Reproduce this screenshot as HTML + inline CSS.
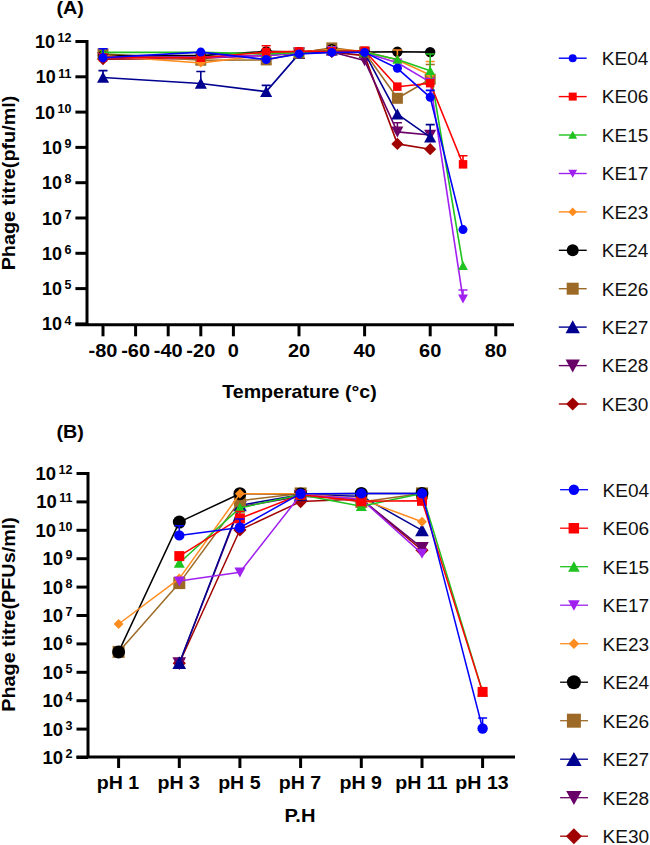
<!DOCTYPE html>
<html><head><meta charset="utf-8"><style>html,body{margin:0;padding:0;background:#fff;width:650px;height:845px;overflow:hidden}svg{display:block}</style></head><body>
<svg width="650" height="845" viewBox="0 0 650 845" font-family="Liberation Sans, sans-serif">
<rect width="650" height="845" fill="#fff"/>
<path d="M103.0 59.1 L200.8 58.4 L266.2 54.9 L299.0 52.8 L331.8 52.1 L364.6 55.6 L397.4 143.9 L430.2 149.2" fill="none" stroke="#a00000" stroke-width="1.6" stroke-linejoin="round"/>
<path d="M103.0 53.1L109.1 59.1L103.0 65.2L97.0 59.1Z" fill="#a00000"/>
<path d="M200.8 52.4L206.9 58.4L200.8 64.5L194.8 58.4Z" fill="#a00000"/>
<path d="M266.2 48.9L272.2 54.9L266.2 61.0L260.1 54.9Z" fill="#a00000"/>
<path d="M299.0 46.7L305.1 52.8L299.0 58.8L292.9 52.8Z" fill="#a00000"/>
<path d="M331.8 46.0L337.9 52.1L331.8 58.1L325.8 52.1Z" fill="#a00000"/>
<path d="M364.6 49.6L370.7 55.6L364.6 61.7L358.6 55.6Z" fill="#a00000"/>
<path d="M397.4 137.8L403.4 143.9L397.4 149.9L391.3 143.9Z" fill="#a00000"/>
<path d="M430.2 143.1L436.2 149.2L430.2 155.2L424.1 149.2Z" fill="#a00000"/>
<path d="M103.0 57.4 L200.8 57.4 L266.2 55.6 L299.0 52.8 L331.8 52.1 L364.6 60.6 L397.4 131.9 L430.2 135.0" fill="none" stroke="#680068" stroke-width="1.6" stroke-linejoin="round"/>
<path d="M397.4 131.9 V122.8 M392.9 122.8 H401.9" fill="none" stroke="#680068" stroke-width="1.6"/>
<path d="M103.0 63.2L109.1 52.2L97.0 52.2Z" fill="#680068"/>
<path d="M200.8 63.2L206.9 52.2L194.8 52.2Z" fill="#680068"/>
<path d="M266.2 61.4L272.2 50.4L260.1 50.4Z" fill="#680068"/>
<path d="M299.0 58.6L305.1 47.6L292.9 47.6Z" fill="#680068"/>
<path d="M331.8 57.9L337.9 46.9L325.8 46.9Z" fill="#680068"/>
<path d="M364.6 66.3L370.7 55.3L358.6 55.3Z" fill="#680068"/>
<path d="M397.4 137.6L403.4 126.6L391.3 126.6Z" fill="#680068"/>
<path d="M430.2 140.8L436.2 129.8L424.1 129.8Z" fill="#680068"/>
<path d="M103.0 77.5 L200.8 83.5 L266.2 91.6 L299.0 53.9 L331.8 50.3 L364.6 52.8 L397.4 114.2 L430.2 137.2" fill="none" stroke="#000090" stroke-width="1.6" stroke-linejoin="round"/>
<path d="M103.0 77.5 V70.6 M98.5 70.6 H107.5" fill="none" stroke="#000090" stroke-width="1.6"/>
<path d="M200.8 83.5 V71.5 M196.3 71.5 H205.3" fill="none" stroke="#000090" stroke-width="1.6"/>
<path d="M266.2 91.6 V85.4 M261.7 85.4 H270.7" fill="none" stroke="#000090" stroke-width="1.6"/>
<path d="M430.2 137.2 V124.6 M425.7 124.6 H434.7" fill="none" stroke="#000090" stroke-width="1.6"/>
<path d="M103.0 71.7L109.1 82.7L97.0 82.7Z" fill="#000090"/>
<path d="M200.8 77.7L206.9 88.7L194.8 88.7Z" fill="#000090"/>
<path d="M266.2 85.9L272.2 96.9L260.1 96.9Z" fill="#000090"/>
<path d="M299.0 48.1L305.1 59.1L292.9 59.1Z" fill="#000090"/>
<path d="M331.8 44.6L337.9 55.6L325.8 55.6Z" fill="#000090"/>
<path d="M364.6 47.0L370.7 58.0L358.6 58.0Z" fill="#000090"/>
<path d="M397.4 108.4L403.4 119.4L391.3 119.4Z" fill="#000090"/>
<path d="M430.2 131.4L436.2 142.4L424.1 142.4Z" fill="#000090"/>
<path d="M103.0 53.9 L200.8 60.2 L266.2 59.9 L299.0 53.1 L331.8 47.9 L364.6 52.1 L397.4 98.3 L430.2 79.3" fill="none" stroke="#9c6a26" stroke-width="1.6" stroke-linejoin="round"/>
<path d="M430.2 79.3 V64.5 M425.7 64.5 H434.7" fill="none" stroke="#9c6a26" stroke-width="1.6"/>
<rect x="97.5" y="48.4" width="11.0" height="11.0" fill="#9c6a26"/>
<rect x="195.3" y="54.7" width="11.0" height="11.0" fill="#9c6a26"/>
<rect x="260.7" y="54.4" width="11.0" height="11.0" fill="#9c6a26"/>
<rect x="293.5" y="47.6" width="11.0" height="11.0" fill="#9c6a26"/>
<rect x="326.3" y="42.4" width="11.0" height="11.0" fill="#9c6a26"/>
<rect x="359.1" y="46.6" width="11.0" height="11.0" fill="#9c6a26"/>
<rect x="391.9" y="92.8" width="11.0" height="11.0" fill="#9c6a26"/>
<rect x="424.7" y="73.8" width="11.0" height="11.0" fill="#9c6a26"/>
<path d="M103.0 55.6 L200.8 55.6 L266.2 51.4 L299.0 52.1 L331.8 49.3 L364.6 52.1 L397.4 51.7 L430.2 52.1" fill="none" stroke="#000000" stroke-width="1.6" stroke-linejoin="round"/>
<circle cx="103.0" cy="55.6" r="5.2" fill="#000000"/>
<circle cx="200.8" cy="55.6" r="5.2" fill="#000000"/>
<circle cx="266.2" cy="51.4" r="5.2" fill="#000000"/>
<circle cx="299.0" cy="52.1" r="5.2" fill="#000000"/>
<circle cx="331.8" cy="49.3" r="5.2" fill="#000000"/>
<circle cx="364.6" cy="52.1" r="5.2" fill="#000000"/>
<circle cx="397.4" cy="51.7" r="5.2" fill="#000000"/>
<circle cx="430.2" cy="52.1" r="5.2" fill="#000000"/>
<path d="M103.0 55.6 L200.8 63.0 L266.2 54.9 L299.0 52.1 L331.8 49.3 L364.6 51.4 L397.4 59.9 L430.2 75.0" fill="none" stroke="#ff8c1f" stroke-width="1.6" stroke-linejoin="round"/>
<path d="M430.2 75.0 V61.5 M425.7 61.5 H434.7" fill="none" stroke="#ff8c1f" stroke-width="1.6"/>
<path d="M397.4 59.9 V50.0 M392.9 50.0 H401.9" fill="none" stroke="#ff8c1f" stroke-width="1.6"/>
<path d="M103.0 51.2L107.4 55.6L103.0 60.0L98.6 55.6Z" fill="#ff8c1f"/>
<path d="M200.8 58.6L205.2 63.0L200.8 67.4L196.4 63.0Z" fill="#ff8c1f"/>
<path d="M266.2 50.5L270.6 54.9L266.2 59.3L261.8 54.9Z" fill="#ff8c1f"/>
<path d="M299.0 47.7L303.4 52.1L299.0 56.5L294.6 52.1Z" fill="#ff8c1f"/>
<path d="M331.8 44.9L336.2 49.3L331.8 53.7L327.4 49.3Z" fill="#ff8c1f"/>
<path d="M364.6 47.0L369.0 51.4L364.6 55.8L360.2 51.4Z" fill="#ff8c1f"/>
<path d="M397.4 55.5L401.8 59.9L397.4 64.3L393.0 59.9Z" fill="#ff8c1f"/>
<path d="M430.2 70.6L434.6 75.0L430.2 79.4L425.8 75.0Z" fill="#ff8c1f"/>
<path d="M103.0 57.4 L200.8 57.4 L266.2 55.6 L299.0 52.8 L331.8 50.3 L364.6 52.8 L397.4 62.7 L430.2 82.1 L463.0 298.8" fill="none" stroke="#a020f0" stroke-width="1.6" stroke-linejoin="round"/>
<path d="M463.0 298.8 V290.0 M458.5 290.0 H467.5" fill="none" stroke="#a020f0" stroke-width="1.6"/>
<path d="M103.0 62.1L108.0 53.1L98.1 53.1Z" fill="#a020f0"/>
<path d="M200.8 62.1L205.8 53.1L195.9 53.1Z" fill="#a020f0"/>
<path d="M266.2 60.3L271.1 51.3L261.2 51.3Z" fill="#a020f0"/>
<path d="M299.0 57.5L303.9 48.5L294.1 48.5Z" fill="#a020f0"/>
<path d="M331.8 55.1L336.8 46.1L326.9 46.1Z" fill="#a020f0"/>
<path d="M364.6 57.5L369.6 48.5L359.7 48.5Z" fill="#a020f0"/>
<path d="M397.4 67.4L402.3 58.4L392.4 58.4Z" fill="#a020f0"/>
<path d="M430.2 86.8L435.1 77.8L425.2 77.8Z" fill="#a020f0"/>
<path d="M463.0 303.6L467.9 294.6L458.1 294.6Z" fill="#a020f0"/>
<path d="M103.0 52.4 L200.8 52.4 L266.2 53.9 L299.0 52.8 L331.8 50.3 L364.6 52.1 L397.4 59.5 L430.2 70.8 L463.0 265.7" fill="none" stroke="#1fc21f" stroke-width="1.6" stroke-linejoin="round"/>
<path d="M430.2 70.8 V54.0 M425.7 54.0 H434.7" fill="none" stroke="#1fc21f" stroke-width="1.6"/>
<path d="M103.0 47.7L108.0 56.7L98.1 56.7Z" fill="#1fc21f"/>
<path d="M200.8 47.7L205.8 56.7L195.9 56.7Z" fill="#1fc21f"/>
<path d="M266.2 49.1L271.1 58.1L261.2 58.1Z" fill="#1fc21f"/>
<path d="M299.0 48.1L303.9 57.1L294.1 57.1Z" fill="#1fc21f"/>
<path d="M331.8 45.6L336.8 54.6L326.9 54.6Z" fill="#1fc21f"/>
<path d="M364.6 47.4L369.6 56.4L359.7 56.4Z" fill="#1fc21f"/>
<path d="M397.4 54.8L402.3 63.8L392.4 63.8Z" fill="#1fc21f"/>
<path d="M430.2 66.1L435.1 75.1L425.2 75.1Z" fill="#1fc21f"/>
<path d="M463.0 260.9L467.9 269.9L458.1 269.9Z" fill="#1fc21f"/>
<path d="M103.0 57.4 L200.8 57.7 L266.2 52.1 L299.0 51.4 L331.8 51.4 L364.6 50.7 L397.4 86.7 L430.2 83.2 L463.0 164.3" fill="none" stroke="#ff0000" stroke-width="1.6" stroke-linejoin="round"/>
<path d="M266.2 52.1 V45.7 M261.7 45.7 H270.7" fill="none" stroke="#ff0000" stroke-width="1.6"/>
<path d="M463.0 164.3 V155.7 M458.5 155.7 H467.5" fill="none" stroke="#ff0000" stroke-width="1.6"/>
<rect x="98.8" y="53.1" width="8.5" height="8.5" fill="#ff0000"/>
<rect x="196.6" y="53.5" width="8.5" height="8.5" fill="#ff0000"/>
<rect x="261.9" y="47.8" width="8.5" height="8.5" fill="#ff0000"/>
<rect x="294.8" y="47.1" width="8.5" height="8.5" fill="#ff0000"/>
<rect x="327.6" y="47.1" width="8.5" height="8.5" fill="#ff0000"/>
<rect x="360.4" y="46.4" width="8.5" height="8.5" fill="#ff0000"/>
<rect x="393.1" y="82.4" width="8.5" height="8.5" fill="#ff0000"/>
<rect x="425.9" y="78.9" width="8.5" height="8.5" fill="#ff0000"/>
<rect x="458.8" y="160.1" width="8.5" height="8.5" fill="#ff0000"/>
<path d="M103.0 57.7 L200.8 52.1 L266.2 59.5 L299.0 53.9 L331.8 52.4 L364.6 52.4 L397.4 68.3 L430.2 97.3 L463.0 229.6" fill="none" stroke="#0000ff" stroke-width="1.6" stroke-linejoin="round"/>
<path d="M430.2 97.3 V90.4 M425.7 90.4 H434.7" fill="none" stroke="#0000ff" stroke-width="1.6"/>
<path d="M103.0 57.7 V48.7 M98.5 48.7 H107.5" fill="none" stroke="#0000ff" stroke-width="1.6"/>
<circle cx="103.0" cy="57.7" r="4.5" fill="#0000ff"/>
<circle cx="200.8" cy="52.1" r="4.5" fill="#0000ff"/>
<circle cx="266.2" cy="59.5" r="4.5" fill="#0000ff"/>
<circle cx="299.0" cy="53.9" r="4.5" fill="#0000ff"/>
<circle cx="331.8" cy="52.4" r="4.5" fill="#0000ff"/>
<circle cx="364.6" cy="52.4" r="4.5" fill="#0000ff"/>
<circle cx="397.4" cy="68.3" r="4.5" fill="#0000ff"/>
<circle cx="430.2" cy="97.3" r="4.5" fill="#0000ff"/>
<circle cx="463.0" cy="229.6" r="4.5" fill="#0000ff"/>
<path d="M179.3 663.2 L239.9 530.0 L300.6 501.6 L361.3 499.1 L422.0 550.2" fill="none" stroke="#a00000" stroke-width="1.5" stroke-linejoin="round"/>
<path d="M179.3 656.6L185.9 663.2L179.3 669.8L172.7 663.2Z" fill="#a00000"/>
<path d="M239.9 523.4L246.5 530.0L239.9 536.6L233.3 530.0Z" fill="#a00000"/>
<path d="M300.6 495.0L307.2 501.6L300.6 508.2L294.0 501.6Z" fill="#a00000"/>
<path d="M361.3 492.5L367.9 499.1L361.3 505.7L354.7 499.1Z" fill="#a00000"/>
<path d="M422.0 543.6L428.6 550.2L422.0 556.8L415.4 550.2Z" fill="#a00000"/>
<path d="M179.3 663.2 L239.9 507.0 L300.6 496.2 L361.3 499.1 L422.0 547.9" fill="none" stroke="#680068" stroke-width="1.5" stroke-linejoin="round"/>
<path d="M179.3 669.8L186.1 657.3L172.4 657.3Z" fill="#680068"/>
<path d="M239.9 513.6L246.8 501.1L233.1 501.1Z" fill="#680068"/>
<path d="M300.6 502.8L307.5 490.3L293.7 490.3Z" fill="#680068"/>
<path d="M361.3 505.6L368.2 493.1L354.4 493.1Z" fill="#680068"/>
<path d="M422.0 554.5L428.8 542.0L415.1 542.0Z" fill="#680068"/>
<path d="M179.3 663.2 L239.9 505.3 L300.6 494.8 L361.3 496.2 L422.0 530.3" fill="none" stroke="#000090" stroke-width="1.5" stroke-linejoin="round"/>
<path d="M179.3 656.6L186.1 669.1L172.4 669.1Z" fill="#000090"/>
<path d="M239.9 498.7L246.8 511.2L233.1 511.2Z" fill="#000090"/>
<path d="M300.6 488.2L307.5 500.7L293.7 500.7Z" fill="#000090"/>
<path d="M361.3 489.7L368.2 502.2L354.4 502.2Z" fill="#000090"/>
<path d="M422.0 523.7L428.8 536.2L415.1 536.2Z" fill="#000090"/>
<path d="M118.6 651.9 L179.3 583.1 L239.9 500.8 L300.6 493.4 L361.3 501.9 L422.0 493.4" fill="none" stroke="#9c6a26" stroke-width="1.5" stroke-linejoin="round"/>
<rect x="112.6" y="645.9" width="12.0" height="12.0" fill="#9c6a26"/>
<rect x="173.3" y="577.1" width="12.0" height="12.0" fill="#9c6a26"/>
<rect x="233.9" y="494.8" width="12.0" height="12.0" fill="#9c6a26"/>
<rect x="294.6" y="487.4" width="12.0" height="12.0" fill="#9c6a26"/>
<rect x="355.3" y="495.9" width="12.0" height="12.0" fill="#9c6a26"/>
<rect x="416.0" y="487.4" width="12.0" height="12.0" fill="#9c6a26"/>
<path d="M118.6 651.9 L179.3 522.1 L239.9 493.7 L300.6 493.9 L361.3 493.4 L422.0 493.4" fill="none" stroke="#000000" stroke-width="1.5" stroke-linejoin="round"/>
<circle cx="118.6" cy="651.9" r="6.5" fill="#000000"/>
<circle cx="179.3" cy="522.1" r="6.5" fill="#000000"/>
<circle cx="239.9" cy="493.7" r="6.5" fill="#000000"/>
<circle cx="300.6" cy="493.9" r="6.5" fill="#000000"/>
<circle cx="361.3" cy="493.4" r="6.5" fill="#000000"/>
<circle cx="422.0" cy="493.4" r="6.5" fill="#000000"/>
<path d="M118.6 624.0 L179.3 578.6 L239.9 493.7 L300.6 493.7 L361.3 499.1 L422.0 521.8" fill="none" stroke="#ff8c1f" stroke-width="1.5" stroke-linejoin="round"/>
<path d="M118.6 619.1L123.5 624.0L118.6 629.0L113.6 624.0Z" fill="#ff8c1f"/>
<path d="M179.3 573.6L184.2 578.6L179.3 583.5L174.3 578.6Z" fill="#ff8c1f"/>
<path d="M239.9 488.7L244.9 493.7L239.9 498.6L235.0 493.7Z" fill="#ff8c1f"/>
<path d="M300.6 488.7L305.6 493.7L300.6 498.6L295.7 493.7Z" fill="#ff8c1f"/>
<path d="M361.3 494.1L366.2 499.1L361.3 504.0L356.3 499.1Z" fill="#ff8c1f"/>
<path d="M422.0 516.8L426.9 521.8L422.0 526.7L417.0 521.8Z" fill="#ff8c1f"/>
<path d="M179.3 581.1 L239.9 572.3 L300.6 494.8 L361.3 499.1 L422.0 553.6" fill="none" stroke="#a020f0" stroke-width="1.5" stroke-linejoin="round"/>
<path d="M179.3 586.4L184.8 576.4L173.8 576.4Z" fill="#a020f0"/>
<path d="M239.9 577.6L245.4 567.6L234.4 567.6Z" fill="#a020f0"/>
<path d="M300.6 500.1L306.1 490.1L295.1 490.1Z" fill="#a020f0"/>
<path d="M361.3 504.3L366.8 494.3L355.8 494.3Z" fill="#a020f0"/>
<path d="M422.0 558.8L427.5 548.8L416.5 548.8Z" fill="#a020f0"/>
<path d="M179.3 563.0 L239.9 507.9 L300.6 494.8 L361.3 506.2 L422.0 493.4 L482.6 691.9" fill="none" stroke="#1fc21f" stroke-width="1.5" stroke-linejoin="round"/>
<path d="M239.9 507.9 V511.5 M235.4 511.5 H244.4" fill="none" stroke="#1fc21f" stroke-width="1.5"/>
<path d="M179.3 557.7L184.8 567.7L173.8 567.7Z" fill="#1fc21f"/>
<path d="M239.9 502.6L245.4 512.6L234.4 512.6Z" fill="#1fc21f"/>
<path d="M300.6 489.6L306.1 499.6L295.1 499.6Z" fill="#1fc21f"/>
<path d="M361.3 500.9L366.8 510.9L355.8 510.9Z" fill="#1fc21f"/>
<path d="M422.0 488.1L427.5 498.1L416.5 498.1Z" fill="#1fc21f"/>
<path d="M482.6 686.6L488.1 696.6L477.1 696.6Z" fill="#1fc21f"/>
<path d="M179.3 556.1 L239.9 518.4 L300.6 494.8 L361.3 501.3 L422.0 500.8 L482.6 691.9" fill="none" stroke="#ff0000" stroke-width="1.5" stroke-linejoin="round"/>
<path d="M239.9 518.4 V511.5 M235.4 511.5 H244.4" fill="none" stroke="#ff0000" stroke-width="1.5"/>
<rect x="174.3" y="551.1" width="10.0" height="10.0" fill="#ff0000"/>
<rect x="234.9" y="513.4" width="10.0" height="10.0" fill="#ff0000"/>
<rect x="295.6" y="489.8" width="10.0" height="10.0" fill="#ff0000"/>
<rect x="356.3" y="496.3" width="10.0" height="10.0" fill="#ff0000"/>
<rect x="417.0" y="495.8" width="10.0" height="10.0" fill="#ff0000"/>
<rect x="477.6" y="686.9" width="10.0" height="10.0" fill="#ff0000"/>
<path d="M179.3 535.4 L239.9 527.5 L300.6 493.7 L361.3 493.4 L422.0 493.4 L482.6 728.5" fill="none" stroke="#0000ff" stroke-width="1.5" stroke-linejoin="round"/>
<path d="M482.6 728.5 V718.0 M478.1 718.0 H487.1" fill="none" stroke="#0000ff" stroke-width="1.5"/>
<path d="M179.3 535.4 V525.7 M174.8 525.7 H183.8" fill="none" stroke="#0000ff" stroke-width="1.5"/>
<path d="M239.9 527.5 V519.0 M235.4 519.0 H244.4" fill="none" stroke="#0000ff" stroke-width="1.5"/>
<circle cx="179.3" cy="535.4" r="5.2" fill="#0000ff"/>
<circle cx="239.9" cy="527.5" r="5.2" fill="#0000ff"/>
<circle cx="300.6" cy="493.7" r="5.2" fill="#0000ff"/>
<circle cx="361.3" cy="493.4" r="5.2" fill="#0000ff"/>
<circle cx="422.0" cy="493.4" r="5.2" fill="#0000ff"/>
<circle cx="482.6" cy="728.5" r="5.2" fill="#0000ff"/>
<path d="M87 40 V326.3 M75.4 324.8 H514" stroke="#000" stroke-width="3" fill="none"/>
<path d="M75.4 323.9 H87" stroke="#000" stroke-width="3"/>
<path d="M75.4 288.6 H87" stroke="#000" stroke-width="3"/>
<path d="M75.4 253.3 H87" stroke="#000" stroke-width="3"/>
<path d="M75.4 218.0 H87" stroke="#000" stroke-width="3"/>
<path d="M75.4 182.7 H87" stroke="#000" stroke-width="3"/>
<path d="M75.4 147.4 H87" stroke="#000" stroke-width="3"/>
<path d="M75.4 112.1 H87" stroke="#000" stroke-width="3"/>
<path d="M75.4 76.8 H87" stroke="#000" stroke-width="3"/>
<path d="M75.4 41.5 H87" stroke="#000" stroke-width="3"/>
<path d="M103.0 325 V336.3" stroke="#000" stroke-width="3"/>
<path d="M135.6 325 V336.3" stroke="#000" stroke-width="3"/>
<path d="M168.2 325 V336.3" stroke="#000" stroke-width="3"/>
<path d="M200.8 325 V336.3" stroke="#000" stroke-width="3"/>
<path d="M233.4 325 V336.3" stroke="#000" stroke-width="3"/>
<path d="M299.0 325 V336.3" stroke="#000" stroke-width="3"/>
<path d="M364.6 325 V336.3" stroke="#000" stroke-width="3"/>
<path d="M430.2 325 V336.3" stroke="#000" stroke-width="3"/>
<path d="M495.8 325 V336.3" stroke="#000" stroke-width="3"/>
<path d="M88 472 V758.5 M76.5 757 H515" stroke="#000" stroke-width="3" fill="none"/>
<path d="M76.5 757.5 H88" stroke="#000" stroke-width="3"/>
<path d="M76.5 729.1 H88" stroke="#000" stroke-width="3"/>
<path d="M76.5 700.7 H88" stroke="#000" stroke-width="3"/>
<path d="M76.5 672.3 H88" stroke="#000" stroke-width="3"/>
<path d="M76.5 643.9 H88" stroke="#000" stroke-width="3"/>
<path d="M76.5 615.5 H88" stroke="#000" stroke-width="3"/>
<path d="M76.5 587.1 H88" stroke="#000" stroke-width="3"/>
<path d="M76.5 558.7 H88" stroke="#000" stroke-width="3"/>
<path d="M76.5 530.3 H88" stroke="#000" stroke-width="3"/>
<path d="M76.5 501.9 H88" stroke="#000" stroke-width="3"/>
<path d="M76.5 473.5 H88" stroke="#000" stroke-width="3"/>
<path d="M118.6 757 V768" stroke="#000" stroke-width="3"/>
<path d="M179.3 757 V768" stroke="#000" stroke-width="3"/>
<path d="M239.9 757 V768" stroke="#000" stroke-width="3"/>
<path d="M300.6 757 V768" stroke="#000" stroke-width="3"/>
<path d="M361.3 757 V768" stroke="#000" stroke-width="3"/>
<path d="M422.0 757 V768" stroke="#000" stroke-width="3"/>
<path d="M482.6 757 V768" stroke="#000" stroke-width="3"/>
<text x="71.5" y="330.4" font-size="18" font-weight="bold" text-anchor="end">10<tspan dx="2.5" dy="-5.8" font-size="12.5">4</tspan></text>
<text x="71.5" y="295.1" font-size="18" font-weight="bold" text-anchor="end">10<tspan dx="2.5" dy="-5.8" font-size="12.5">5</tspan></text>
<text x="71.5" y="259.8" font-size="18" font-weight="bold" text-anchor="end">10<tspan dx="2.5" dy="-5.8" font-size="12.5">6</tspan></text>
<text x="71.5" y="224.5" font-size="18" font-weight="bold" text-anchor="end">10<tspan dx="2.5" dy="-5.8" font-size="12.5">7</tspan></text>
<text x="71.5" y="189.2" font-size="18" font-weight="bold" text-anchor="end">10<tspan dx="2.5" dy="-5.8" font-size="12.5">8</tspan></text>
<text x="71.5" y="153.9" font-size="18" font-weight="bold" text-anchor="end">10<tspan dx="2.5" dy="-5.8" font-size="12.5">9</tspan></text>
<text x="71.5" y="118.6" font-size="18" font-weight="bold" text-anchor="end">10<tspan dx="2.5" dy="-5.8" font-size="12.5">10</tspan></text>
<text x="71.5" y="83.3" font-size="18" font-weight="bold" text-anchor="end">10<tspan dx="2.5" dy="-5.8" font-size="12.5">11</tspan></text>
<text x="71.5" y="48.0" font-size="18" font-weight="bold" text-anchor="end">10<tspan dx="2.5" dy="-5.8" font-size="12.5">12</tspan></text>
<text x="72.5" y="764.0" font-size="18.5" font-weight="bold" text-anchor="end">10<tspan dx="2.5" dy="-6" font-size="12.5">2</tspan></text>
<text x="72.5" y="735.6" font-size="18.5" font-weight="bold" text-anchor="end">10<tspan dx="2.5" dy="-6" font-size="12.5">3</tspan></text>
<text x="72.5" y="707.2" font-size="18.5" font-weight="bold" text-anchor="end">10<tspan dx="2.5" dy="-6" font-size="12.5">4</tspan></text>
<text x="72.5" y="678.8" font-size="18.5" font-weight="bold" text-anchor="end">10<tspan dx="2.5" dy="-6" font-size="12.5">5</tspan></text>
<text x="72.5" y="650.4" font-size="18.5" font-weight="bold" text-anchor="end">10<tspan dx="2.5" dy="-6" font-size="12.5">6</tspan></text>
<text x="72.5" y="622.0" font-size="18.5" font-weight="bold" text-anchor="end">10<tspan dx="2.5" dy="-6" font-size="12.5">7</tspan></text>
<text x="72.5" y="593.6" font-size="18.5" font-weight="bold" text-anchor="end">10<tspan dx="2.5" dy="-6" font-size="12.5">8</tspan></text>
<text x="72.5" y="565.2" font-size="18.5" font-weight="bold" text-anchor="end">10<tspan dx="2.5" dy="-6" font-size="12.5">9</tspan></text>
<text x="72.5" y="536.8" font-size="18.5" font-weight="bold" text-anchor="end">10<tspan dx="2.5" dy="-6" font-size="12.5">10</tspan></text>
<text x="72.5" y="508.4" font-size="18.5" font-weight="bold" text-anchor="end">10<tspan dx="2.5" dy="-6" font-size="12.5">11</tspan></text>
<text x="72.5" y="480.0" font-size="18.5" font-weight="bold" text-anchor="end">10<tspan dx="2.5" dy="-6" font-size="12.5">12</tspan></text>
<text transform="translate(103.00 356.5) scale(1.08 1)" font-size="18.5" font-weight="bold" text-anchor="middle" fill="#000">-80</text>
<text transform="translate(135.60 356.5) scale(1.08 1)" font-size="18.5" font-weight="bold" text-anchor="middle" fill="#000">-60</text>
<text transform="translate(168.20 356.5) scale(1.08 1)" font-size="18.5" font-weight="bold" text-anchor="middle" fill="#000">-40</text>
<text transform="translate(200.80 356.5) scale(1.08 1)" font-size="18.5" font-weight="bold" text-anchor="middle" fill="#000">-20</text>
<text transform="translate(233.40 356.5) scale(1.08 1)" font-size="18.5" font-weight="bold" text-anchor="middle" fill="#000">0</text>
<text transform="translate(299.00 356.5) scale(1.08 1)" font-size="18.5" font-weight="bold" text-anchor="middle" fill="#000">20</text>
<text transform="translate(364.60 356.5) scale(1.08 1)" font-size="18.5" font-weight="bold" text-anchor="middle" fill="#000">40</text>
<text transform="translate(430.20 356.5) scale(1.08 1)" font-size="18.5" font-weight="bold" text-anchor="middle" fill="#000">60</text>
<text transform="translate(495.80 356.5) scale(1.08 1)" font-size="18.5" font-weight="bold" text-anchor="middle" fill="#000">80</text>
<text transform="translate(118.00 788.6) scale(1.12 1)" font-size="17.5" font-weight="bold" text-anchor="middle" fill="#000">pH 1</text>
<text transform="translate(178.67 788.6) scale(1.12 1)" font-size="17.5" font-weight="bold" text-anchor="middle" fill="#000">pH 3</text>
<text transform="translate(239.34 788.6) scale(1.12 1)" font-size="17.5" font-weight="bold" text-anchor="middle" fill="#000">pH 5</text>
<text transform="translate(300.01 788.6) scale(1.12 1)" font-size="17.5" font-weight="bold" text-anchor="middle" fill="#000">pH 7</text>
<text transform="translate(360.68 788.6) scale(1.12 1)" font-size="17.5" font-weight="bold" text-anchor="middle" fill="#000">pH 9</text>
<text transform="translate(421.35 788.6) scale(1.12 1)" font-size="17.5" font-weight="bold" text-anchor="middle" fill="#000">pH 11</text>
<text transform="translate(482.02 788.6) scale(1.12 1)" font-size="17.5" font-weight="bold" text-anchor="middle" fill="#000">pH 13</text>
<text transform="translate(299.45 397.7) scale(1.06 1)" font-size="18.5" font-weight="bold" text-anchor="middle" fill="#000">Temperature (°c)</text>
<text transform="translate(300.00 822.2) scale(1.06 1)" font-size="19" font-weight="bold" text-anchor="middle" fill="#000">P.H</text>
<text transform="translate(70.20 14.4) scale(1.07 1)" font-size="18.5" font-weight="bold" text-anchor="middle" fill="#000">(A)</text>
<text transform="translate(70.20 438.2) scale(1.07 1)" font-size="18.5" font-weight="bold" text-anchor="middle" fill="#000">(B)</text>
<text transform="translate(14.8 183) rotate(-90) scale(1.07 1)" font-size="18.5" font-weight="bold" text-anchor="middle" fill="#000">Phage titre(pfu/ml)</text>
<text transform="translate(14.8 614.45) rotate(-90) scale(1.07 1)" font-size="18.5" font-weight="bold" text-anchor="middle" fill="#000">Phage titre(PFUs/ml)</text>
<path d="M558.8 58.2 H586.7" stroke="#0000ff" stroke-width="1.4"/>
<circle cx="572.7" cy="58.2" r="4.0" fill="#0000ff"/>
<text transform="translate(601.8 65.0) scale(1.03 1)" font-size="18.5" fill="#111">KE04</text>
<path d="M558.8 96.6 H586.7" stroke="#ff0000" stroke-width="1.4"/>
<rect x="568.7" y="92.6" width="8.0" height="8.0" fill="#ff0000"/>
<text transform="translate(601.8 103.4) scale(1.03 1)" font-size="18.5" fill="#111">KE06</text>
<path d="M558.8 135.0 H586.7" stroke="#1fc21f" stroke-width="1.4"/>
<path d="M572.7 130.8L577.1 138.8L568.3 138.8Z" fill="#1fc21f"/>
<text transform="translate(601.8 141.8) scale(1.03 1)" font-size="18.5" fill="#111">KE15</text>
<path d="M558.8 173.5 H586.7" stroke="#a020f0" stroke-width="1.4"/>
<path d="M572.7 177.7L577.1 169.7L568.3 169.7Z" fill="#a020f0"/>
<text transform="translate(601.8 180.3) scale(1.03 1)" font-size="18.5" fill="#111">KE17</text>
<path d="M558.8 211.9 H586.7" stroke="#ff8c1f" stroke-width="1.4"/>
<path d="M572.7 207.5L577.1 211.9L572.7 216.3L568.3 211.9Z" fill="#ff8c1f"/>
<text transform="translate(601.8 218.7) scale(1.03 1)" font-size="18.5" fill="#111">KE23</text>
<path d="M558.8 250.3 H586.7" stroke="#000000" stroke-width="1.4"/>
<circle cx="572.7" cy="250.3" r="6.0" fill="#000000"/>
<text transform="translate(601.8 257.1) scale(1.03 1)" font-size="18.5" fill="#111">KE24</text>
<path d="M558.8 288.7 H586.7" stroke="#9c6a26" stroke-width="1.4"/>
<rect x="566.7" y="282.7" width="12.0" height="12.0" fill="#9c6a26"/>
<text transform="translate(601.8 295.5) scale(1.03 1)" font-size="18.5" fill="#111">KE26</text>
<path d="M558.8 327.1 H586.7" stroke="#000090" stroke-width="1.4"/>
<path d="M572.7 320.3L579.9 333.3L565.6 333.3Z" fill="#000090"/>
<text transform="translate(601.8 333.9) scale(1.03 1)" font-size="18.5" fill="#111">KE27</text>
<path d="M558.8 365.6 H586.7" stroke="#680068" stroke-width="1.4"/>
<path d="M572.7 372.4L579.9 359.4L565.6 359.4Z" fill="#680068"/>
<text transform="translate(601.8 372.4) scale(1.03 1)" font-size="18.5" fill="#111">KE28</text>
<path d="M558.8 404.0 H586.7" stroke="#a00000" stroke-width="1.4"/>
<path d="M572.7 397.4L579.3 404.0L572.7 410.6L566.1 404.0Z" fill="#a00000"/>
<text transform="translate(601.8 410.8) scale(1.03 1)" font-size="18.5" fill="#111">KE30</text>
<path d="M560.1 489.7 H588" stroke="#0000ff" stroke-width="1.3"/>
<circle cx="573.9" cy="489.7" r="5.2" fill="#0000ff"/>
<text transform="translate(602.6 496.5) scale(1.03 1)" font-size="18.5" fill="#111">KE04</text>
<path d="M560.1 528.2 H588" stroke="#ff0000" stroke-width="1.3"/>
<rect x="568.6" y="523.0" width="10.5" height="10.5" fill="#ff0000"/>
<text transform="translate(602.6 535.0) scale(1.03 1)" font-size="18.5" fill="#111">KE06</text>
<path d="M560.1 566.7 H588" stroke="#1fc21f" stroke-width="1.3"/>
<path d="M573.9 561.2L579.7 571.7L568.1 571.7Z" fill="#1fc21f"/>
<text transform="translate(602.6 573.5) scale(1.03 1)" font-size="18.5" fill="#111">KE15</text>
<path d="M560.1 605.2 H588" stroke="#a020f0" stroke-width="1.3"/>
<path d="M573.9 610.7L579.7 600.2L568.1 600.2Z" fill="#a020f0"/>
<text transform="translate(602.6 612.0) scale(1.03 1)" font-size="18.5" fill="#111">KE17</text>
<path d="M560.1 643.7 H588" stroke="#ff8c1f" stroke-width="1.3"/>
<path d="M573.9 638.5L579.1 643.7L573.9 648.9L568.7 643.7Z" fill="#ff8c1f"/>
<text transform="translate(602.6 650.5) scale(1.03 1)" font-size="18.5" fill="#111">KE23</text>
<path d="M560.1 682.2 H588" stroke="#000000" stroke-width="1.3"/>
<circle cx="573.9" cy="682.2" r="7.0" fill="#000000"/>
<text transform="translate(602.6 689.0) scale(1.03 1)" font-size="18.5" fill="#111">KE24</text>
<path d="M560.1 720.7 H588" stroke="#9c6a26" stroke-width="1.3"/>
<rect x="566.9" y="713.7" width="14.0" height="14.0" fill="#9c6a26"/>
<text transform="translate(602.6 727.5) scale(1.03 1)" font-size="18.5" fill="#111">KE26</text>
<path d="M560.1 759.2 H588" stroke="#000090" stroke-width="1.3"/>
<path d="M573.9 751.9L581.6 765.9L566.2 765.9Z" fill="#000090"/>
<text transform="translate(602.6 766.0) scale(1.03 1)" font-size="18.5" fill="#111">KE27</text>
<path d="M560.1 797.7 H588" stroke="#680068" stroke-width="1.3"/>
<path d="M573.9 805.1L581.6 791.1L566.2 791.1Z" fill="#680068"/>
<text transform="translate(602.6 804.5) scale(1.03 1)" font-size="18.5" fill="#111">KE28</text>
<path d="M560.1 836.2 H588" stroke="#a00000" stroke-width="1.3"/>
<path d="M573.9 828.2L581.9 836.2L573.9 844.2L565.9 836.2Z" fill="#a00000"/>
<text transform="translate(602.6 843.0) scale(1.03 1)" font-size="18.5" fill="#111">KE30</text>
</svg>
</body></html>
